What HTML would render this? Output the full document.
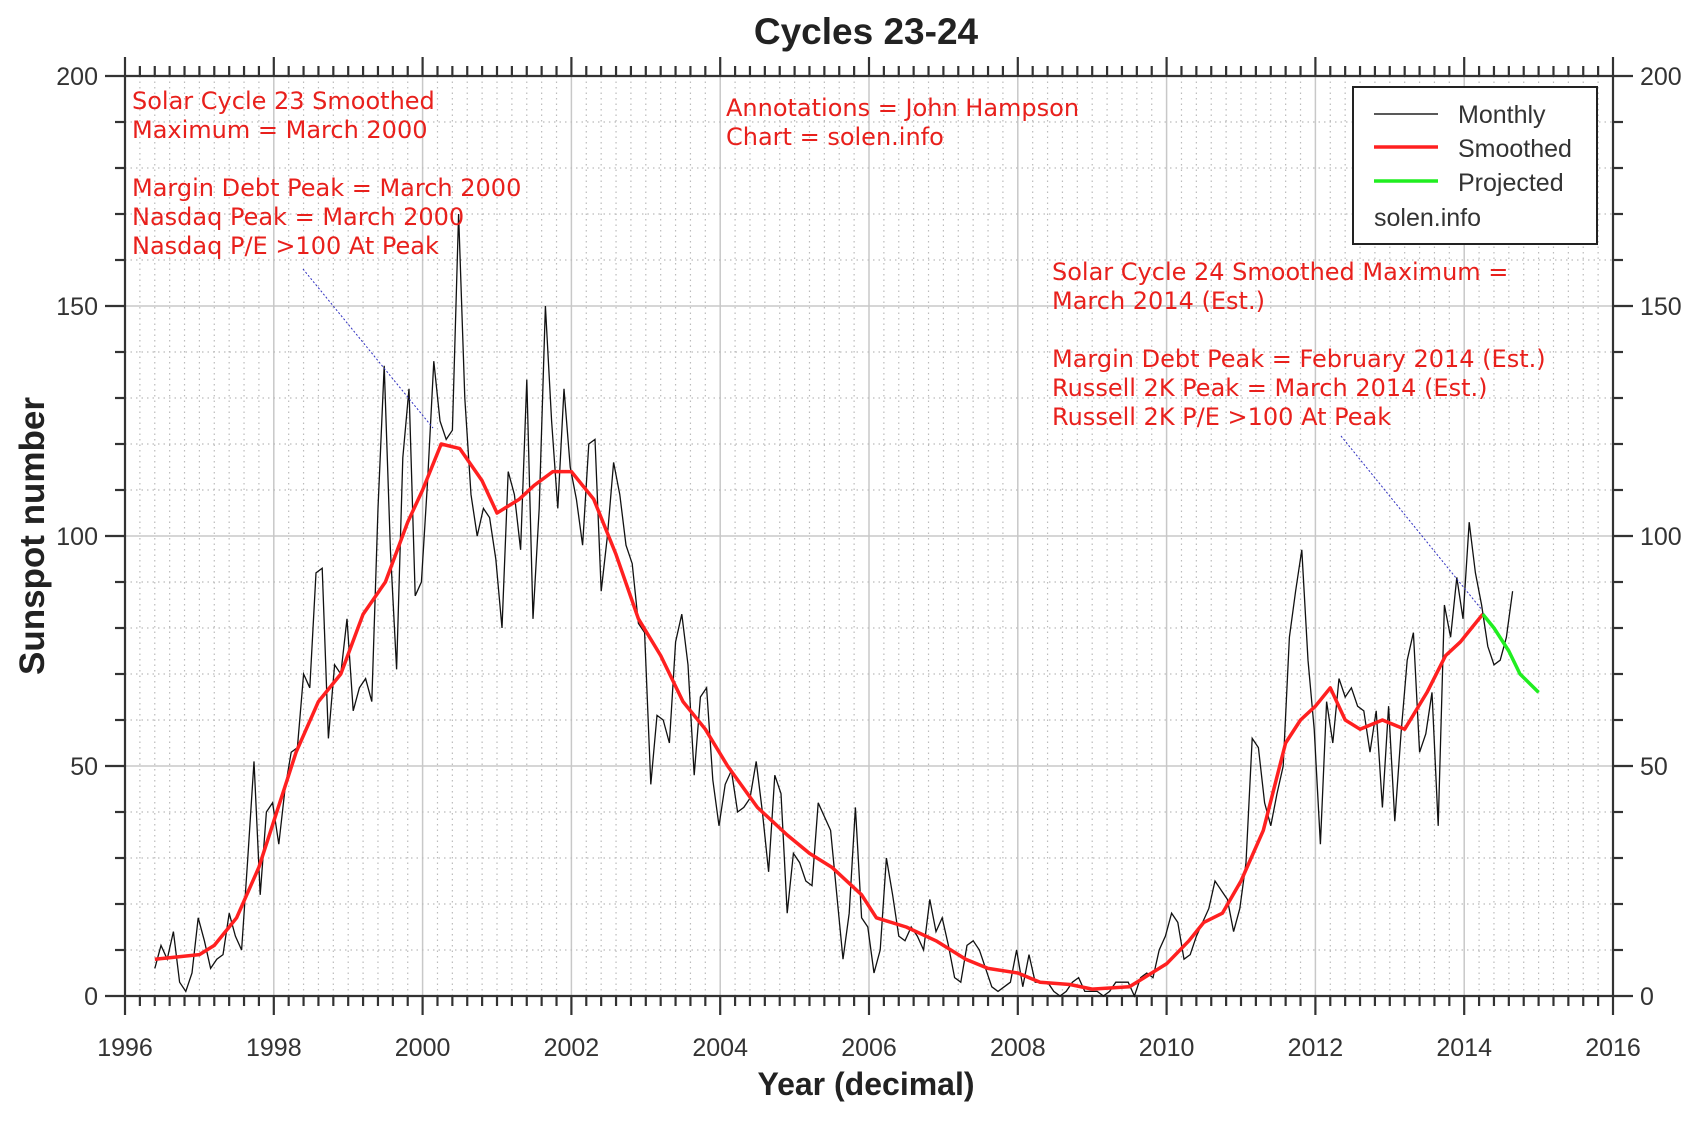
<!DOCTYPE html>
<html><head><meta charset="utf-8"><style>
html,body{margin:0;padding:0;background:#fff;}
svg{display:block;}
</style></head><body>
<svg id="s" width="1698" height="1126" viewBox="0 0 1698 1126" xmlns="http://www.w3.org/2000/svg" font-family="Liberation Sans, sans-serif">
<rect width="1698" height="1126" fill="#fff"/>
<g id="grid"></g>
<g id="ax"></g>
<g id="data"></g>
<text x="866" y="44" text-anchor="middle" font-size="37" font-weight="bold" fill="#222">Cycles 23-24</text>
<text x="866" y="1095" text-anchor="middle" font-size="32" font-weight="bold" fill="#222">Year (decimal)</text>
<text transform="translate(44,536) rotate(-90)" text-anchor="middle" font-size="35" font-weight="bold" fill="#222">Sunspot number</text>
<g font-family="DejaVu Sans, sans-serif" font-size="24" fill="#e8201c">
<text x="132" y="109">Solar Cycle 23 Smoothed</text>
<text x="132" y="138">Maximum = March 2000</text>
<text x="132" y="196">Margin Debt Peak = March 2000</text>
<text x="132" y="225">Nasdaq Peak = March 2000</text>
<text x="132" y="254">Nasdaq P/E &gt;100 At Peak</text>
<text x="726" y="116">Annotations = John Hampson</text>
<text x="726" y="145">Chart = solen.info</text>
<text x="1052" y="280">Solar Cycle 24 Smoothed Maximum =</text>
<text x="1052" y="309">March 2014 (Est.)</text>
<text x="1052" y="367">Margin Debt Peak = February 2014 (Est.)</text>
<text x="1052" y="396">Russell 2K Peak = March 2014 (Est.)</text>
<text x="1052" y="425">Russell 2K P/E &gt;100 At Peak</text>
</g>
<line x1="303" y1="269" x2="433" y2="428" stroke="#3030c0" stroke-width="1" stroke-dasharray="2,2"/>
<line x1="1341" y1="436" x2="1482" y2="610" stroke="#3030c0" stroke-width="1" stroke-dasharray="2,2"/>
<g>
<rect x="1353" y="87" width="244" height="157" fill="#fff" stroke="#222" stroke-width="2"/>
<line x1="1374" y1="114" x2="1438" y2="114" stroke="#222" stroke-width="1.5"/>
<line x1="1374" y1="147" x2="1438" y2="147" stroke="#ff2020" stroke-width="3.5"/>
<line x1="1374" y1="181" x2="1438" y2="181" stroke="#20ee20" stroke-width="3.5"/>
<g font-size="25" fill="#333">
<text x="1458" y="123">Monthly</text>
<text x="1458" y="157">Smoothed</text>
<text x="1458" y="191">Projected</text>
<text x="1374" y="226">solen.info</text>
</g>
</g>
</svg>
<script>
var L=125,R=1613,T=76,B=996;
function X(y){return L+(y-1996)*(R-L)/20;}
function Y(v){return B-v*(B-T)/200;}
var ns="http://www.w3.org/2000/svg";
function el(p,t,a){var e=document.createElementNS(ns,t);for(var k in a)e.setAttribute(k,a[k]);document.getElementById(p).appendChild(e);return e;}
for(var i=0;i<=100;i++){var yr=1996+i*0.2;var x=X(yr);
 if(i%10==0){el("grid","line",{x1:x,y1:T,x2:x,y2:B,stroke:"#c8c8c8","stroke-width":1.5});}
 else el("grid","line",{x1:x,y1:T,x2:x,y2:B,stroke:"#bbb","stroke-width":1.2,"stroke-dasharray":"1.5,4"});
}
for(var v=0;v<=200;v+=10){var y=Y(v);
 if(v%50==0) el("grid","line",{x1:L,y1:y,x2:R,y2:y,stroke:"#c8c8c8","stroke-width":1.5});
 else el("grid","line",{x1:L,y1:y,x2:R,y2:y,stroke:"#bbb","stroke-width":1.2,"stroke-dasharray":"1.5,4"});
}
var st={stroke:"#333","stroke-width":2.2};
function ln(a,b,c,d){var o={x1:a,y1:b,x2:c,y2:d};for(var k in st)o[k]=st[k];el("ax","line",o);}
ln(L,T,R,T);ln(L,B,R,B);ln(L,T,L,B);ln(R,T,R,B);
for(var i=0;i<=100;i++){var x=X(1996+i*0.2);var big=i%10==0;
 ln(x,T,x,T-(big?19:10));ln(x,B,x,B+(big?19:10));
 if(big){var t=el("ax","text",{x:x,y:1056,"text-anchor":"middle","font-size":25,fill:"#333"});t.textContent=1996+i/5;}
}
for(var v=0;v<=200;v+=10){var y=Y(v);var big=v%50==0;
 ln(L,y,L-(big?20:10),y);ln(R,y,R+(big?20:10),y);
 if(big){var t=el("ax","text",{x:98,y:y+9,"text-anchor":"end","font-size":25,fill:"#333"});t.textContent=v;
 t=el("ax","text",{x:1640,y:y+9,"font-size":25,fill:"#333"});t.textContent=v;}
}
var m=[6,11,8,14,3,1,5,17,12,6,8,9,18,13,10,30,51,22,40,42,33,45,53,54,70,67,92,93,56,72,70,82,62,67,69,64,106,137,97,71,117,132,87,90,112,138,125,121,123,170,130,109,100,106,104,95,80,114,109,97,134,82,106,150,125,106,132,115,108,98,120,121,88,100,116,109,98,94,81,79,46,61,60,55,77,83,72,48,65,67,47,37,46,49,40,41,43,51,40,27,48,44,18,31,29,25,24,42,39,36,22,8,18,41,17,15,5,10,30,22,13,12,15,13,10,21,14,17,11,4,3,11,12,10,6,2,1,2,3,10,2,9,3,3,3,1,0,1,3,4,1,1,1,0,1,3,3,3,0,4,5,4,10,13,18,16,8,9,13,16,19,25,23,21,14,19,29,56,54,42,37,44,50,78,88,97,73,58,33,64,55,69,65,67,63,62,53,62,41,63,38,57,73,79,53,57,66,37,85,78,91,82,103,92,85,76,72,73,78,88];
var p=[];for(var i=0;i<m.length;i++){p.push(X(1996.4+i/12).toFixed(1)+","+Y(m[i]).toFixed(1));}
el("data","polyline",{points:p.join(" "),fill:"none",stroke:"#111","stroke-width":1.3});
var s=[[1996.4,8],[1997.0,9],[1997.2,11],[1997.5,17],[1997.8,28],[1998.0,38],[1998.3,53],[1998.6,64],[1998.9,70],[1999.2,83],[1999.5,90],[1999.8,103],[2000.0,110],[2000.25,120],[2000.5,119],[2000.8,112],[2001.0,105],[2001.3,108],[2001.5,111],[2001.75,114],[2002.0,114],[2002.3,108],[2002.6,96],[2002.9,82],[2003.2,74],[2003.5,64],[2003.8,58],[2004.1,50],[2004.5,41],[2004.9,35],[2005.2,31],[2005.5,28],[2005.9,22],[2006.1,17],[2006.5,15],[2006.9,12],[2007.3,8],[2007.6,6],[2008.0,5],[2008.3,3],[2008.7,2.5],[2009.0,1.5],[2009.5,2],[2009.8,5],[2010.0,7],[2010.3,12],[2010.5,16],[2010.75,18],[2011.0,25],[2011.3,36],[2011.6,55],[2011.8,60],[2012.0,63],[2012.2,67],[2012.4,60],[2012.6,58],[2012.9,60],[2013.2,58],[2013.5,66],[2013.75,74],[2013.95,77],[2014.1,80],[2014.25,83]];
el("data","polyline",{points:s.map(function(a){return X(a[0]).toFixed(1)+","+Y(a[1]).toFixed(1)}).join(" "),fill:"none",stroke:"#ff2020","stroke-width":3.5,"stroke-linejoin":"round"});
var g=[[2014.25,83],[2014.4,80],[2014.6,75],[2014.75,70],[2015.0,66]];
el("data","polyline",{points:g.map(function(a){return X(a[0]).toFixed(1)+","+Y(a[1]).toFixed(1)}).join(" "),fill:"none",stroke:"#20ee20","stroke-width":3.5,"stroke-linejoin":"round"});
</script>
</body></html>
